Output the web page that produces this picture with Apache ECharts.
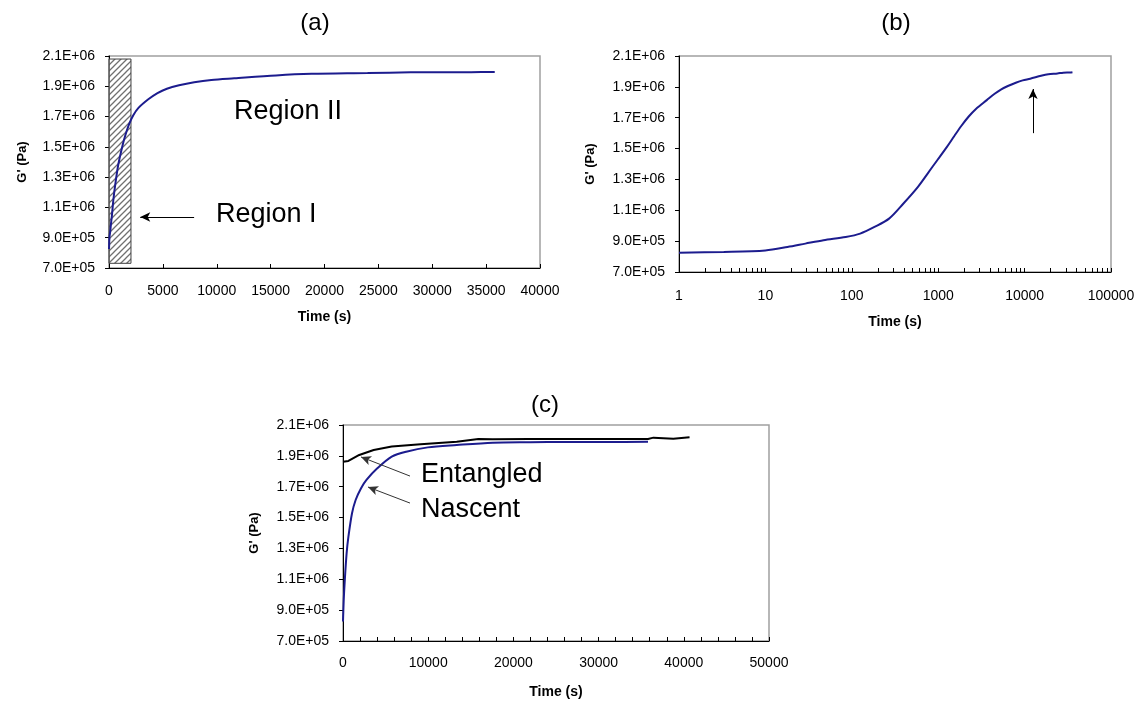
<!DOCTYPE html>
<html>
<head>
<meta charset="utf-8">
<script src="https://cdn.jsdelivr.net/npm/echarts@6/dist/echarts.min.js"></script>
<style>
	html, body { margin: 0; padding: 0; background: #fff; }
	#chart { width: 1139px; height: 702px; }
</style>
</head>
<body>
<div id="chart"></div>
<script>
	// G' vs time, one cure run, used by (a) linear and (b) log
	const timeCure = [1, 3.3, 10, 18, 29, 47, 85, 125, 183, 270, 396, 583, 859, 1262, 1531, 1858, 2255, 2733, 3648, 4500, 5370, 6500, 7906, 9500, 11620, 15500, 18800, 24000, 28000, 33600, 35800];
	const gCure = [825000, 830000, 840000, 862000, 884000, 906000, 927000, 949000, 992000, 1046000, 1144000, 1252000, 1382000, 1511000, 1580000, 1648000, 1708000, 1757000, 1814000, 1855000, 1884000, 1907000, 1927000, 1942000, 1953000, 1972000, 1982000, 1987000, 1992000, 1993000, 1995000];

	// (c) nascent vs entangled
	const timeNascent = [0, 85, 212, 424, 636, 1059, 1483, 2119, 2754, 4025, 5720, 7415, 9957, 13347, 17584, 22000, 26058, 30930, 35800];
	const gNascent = [826000, 966000, 1096000, 1268000, 1376000, 1528000, 1614000, 1690000, 1744000, 1819000, 1895000, 1927000, 1955000, 1970000, 1985000, 1988000, 1990000, 1990000, 1992000];
	const timeEntangled = [0, 636, 1907, 3600, 5720, 9110, 13347, 15890, 17584, 21821, 30296, 35800, 36440, 38770, 40675];
	const gEntangled = [1862000, 1867000, 1906000, 1938000, 1960000, 1975000, 1992000, 2009000, 2007000, 2009000, 2009000, 2009000, 2018000, 2011000, 2020000];

	// axes
	const gTicks = [700000, 900000, 1100000, 1300000, 1500000, 1700000, 1900000, 2100000];
	const logLabels = [1, 10, 100, 1000, 10000, 100000];
	const logTicks = [];
	for (let d = 1; d < 100000; d *= 10) {
		for (let k = 1; k < 10; k++) logTicks.push(k * d);
	}
	logTicks.push(100000);

	// annotations (data space)
	const regionI = { t: [0, 2040], g: [731000, 2080000] };
	const arrowRegionI = [[7900, 1037000], [2900, 1037000]];
	const arrowB = [[12500, 1600000], [12500, 1886000]];
	const arrowEntangled = [[7864, 1769000], [2113, 1893000]];
	const arrowNascent = [[7864, 1594000], [2934, 1698000]];

	const FONT = 'Arial, "Liberation Sans", sans-serif';
	const NAVY = '#1c1c8e';

	function pairs(xs, ys) {
		return xs.map((x, i) => [x, ys[i]]);
	}

	function sci(v) {
		const e = Math.floor(Math.log10(v) + 1e-9);
		const m = v / Math.pow(10, e);
		return m.toFixed(1) + 'E+' + String(e).padStart(2, '0');
	}

	function yAxisFor(gi, gap) {
		return {
			type: 'value', gridIndex: gi, min: 700000, max: 2100000,
			name: "G' (Pa)", nameLocation: 'middle', nameGap: gap,
			nameTextStyle: { fontWeight: 'bold', fontSize: 13, color: '#000', fontFamily: FONT },
			axisLine: { show: true, lineStyle: { color: '#000', width: 1 } },
			axisTick: { show: true, inside: false, length: 4, customValues: gTicks, lineStyle: { color: '#000' } },
			axisLabel: { customValues: gTicks, formatter: sci, margin: 14, fontSize: 14, color: '#000', fontFamily: FONT },
			splitLine: { show: false }
		};
	}

	function xName(gap) {
		return {
			name: 'Time (s)', nameLocation: 'middle', nameGap: gap,
			nameTextStyle: { fontWeight: 'bold', fontSize: 14, color: '#000', fontFamily: FONT }
		};
	}

	function arrow(a) {
		return [{ coord: a[0], symbol: 'none' }, { coord: a[1], symbol: 'arrow' }];
	}

	function text(str, x, y, size, align) {
		return {
			type: 'text', x: x, y: y, silent: true,
			style: {
				text: str, fill: '#000', font: size + 'px ' + FONT,
				textAlign: align, textVerticalAlign: 'middle', align: align, verticalAlign: 'middle'
			}
		};
	}

	// hatch fill for region I
	const hatch = document.createElement('canvas');
	hatch.width = 6;
	hatch.height = 6;
	const hc = hatch.getContext('2d');
	hc.fillStyle = 'rgba(255,255,255,0.6)';
	hc.fillRect(0, 0, 6, 6);
	hc.strokeStyle = '#707070';
	hc.lineWidth = 1.3;
	hc.beginPath();
	hc.moveTo(0, 6); hc.lineTo(6, 0);
	hc.moveTo(-1, 1); hc.lineTo(1, -1);
	hc.moveTo(5, 7); hc.lineTo(7, 5);
	hc.stroke();

	const chart = echarts.init(document.getElementById('chart'), null, { renderer: 'canvas' });

	const markArrow = {
		silent: true, symbolSize: [7, 10],
		lineStyle: { color: '#000', width: 1, type: 'solid' },
		label: { show: false }, emphasis: { disabled: true }
	};

	const option = {
		backgroundColor: '#fff',
		animation: false,
		textStyle: { fontFamily: FONT },
		grid: [
			{ left: 109, top: 56, width: 431, height: 212, show: true, borderColor: '#a0a0a0', borderWidth: 1.5 },
			{ left: 679, top: 56, width: 432, height: 216, show: true, borderColor: '#a0a0a0', borderWidth: 1.5 },
			{ left: 343, top: 425, width: 426, height: 216, show: true, borderColor: '#a0a0a0', borderWidth: 1.5 }
		],
		xAxis: [
			Object.assign({
				type: 'value', gridIndex: 0, min: 0, max: 40000, interval: 5000,
				axisLine: { lineStyle: { color: '#000', width: 1 } },
				axisTick: { inside: true, length: 4, lineStyle: { color: '#000' } },
				axisLabel: { formatter: v => String(v), margin: 16, fontSize: 14, color: '#000', fontFamily: FONT },
				splitLine: { show: false }
			}, xName(42)),
			Object.assign({
				type: 'log', gridIndex: 1, min: 1, max: 100000, logBase: 10,
				axisLine: { lineStyle: { color: '#000', width: 1 } },
				axisTick: { inside: true, length: 4, customValues: logTicks, lineStyle: { color: '#000' } },
				axisLabel: { customValues: logLabels, formatter: v => String(Math.round(v)), margin: 17, fontSize: 14, color: '#000', fontFamily: FONT },
				splitLine: { show: false }, minorTick: { show: false }
			}, xName(43)),
			Object.assign({
				type: 'value', gridIndex: 2, min: 0, max: 50000, interval: 10000,
				axisLine: { lineStyle: { color: '#000', width: 1 } },
				axisTick: { inside: true, length: 4, lineStyle: { color: '#000' } },
				minorTick: { show: true, splitNumber: 5, length: 4, lineStyle: { color: '#000' } },
				axisLabel: { formatter: v => String(v), margin: 15, fontSize: 14, color: '#000', fontFamily: FONT },
				splitLine: { show: false }
			}, xName(44))
		],
		yAxis: [yAxisFor(0, 80), yAxisFor(1, 82), yAxisFor(2, 82)],
		series: [
			{
				type: 'line', xAxisIndex: 0, yAxisIndex: 0, data: pairs(timeCure, gCure),
				showSymbol: false, smooth: 0.3, lineStyle: { color: NAVY, width: 2 },
				markLine: Object.assign({ data: [arrow(arrowRegionI)] }, markArrow)
			},
			{
				// hatched Region I, drawn above the curve
				type: 'line', xAxisIndex: 0, yAxisIndex: 0, data: [], z: 5,
				markArea: {
					silent: true,
					itemStyle: { color: { image: hatch, repeat: 'repeat' }, borderColor: '#404040', borderWidth: 1 },
					data: [[{ coord: [regionI.t[0], regionI.g[0]] }, { coord: [regionI.t[1], regionI.g[1]] }]]
				}
			},
			{
				type: 'line', xAxisIndex: 1, yAxisIndex: 1, data: pairs(timeCure, gCure),
				showSymbol: false, smooth: 0.3, lineStyle: { color: NAVY, width: 2 },
				markLine: Object.assign({ data: [arrow(arrowB)] }, markArrow)
			},
			{
				name: 'Nascent', type: 'line', xAxisIndex: 2, yAxisIndex: 2, data: pairs(timeNascent, gNascent),
				showSymbol: false, smooth: 0.3, lineStyle: { color: NAVY, width: 2 }
			},
			{
				name: 'Entangled', type: 'line', xAxisIndex: 2, yAxisIndex: 2, data: pairs(timeEntangled, gEntangled),
				showSymbol: false, lineStyle: { color: '#000', width: 2 },
				markLine: Object.assign({ data: [arrow(arrowEntangled), arrow(arrowNascent)] }, markArrow, {
					lineStyle: { color: '#333', width: 1, type: 'solid' }
				})
			}
		],
		graphic: [
			text('(a)', 315, 23, 24, 'center'),
			text('(b)', 896, 23, 24, 'center'),
			text('(c)', 545, 405, 24, 'center'),
			text('Region II', 234, 112, 27, 'left'),
			text('Region I', 216, 215, 27, 'left'),
			text('Entangled', 421, 475, 27, 'left'),
			text('Nascent', 421, 510, 27, 'left')
		]
	};

	chart.setOption(option);
</script>
</body>
</html>
